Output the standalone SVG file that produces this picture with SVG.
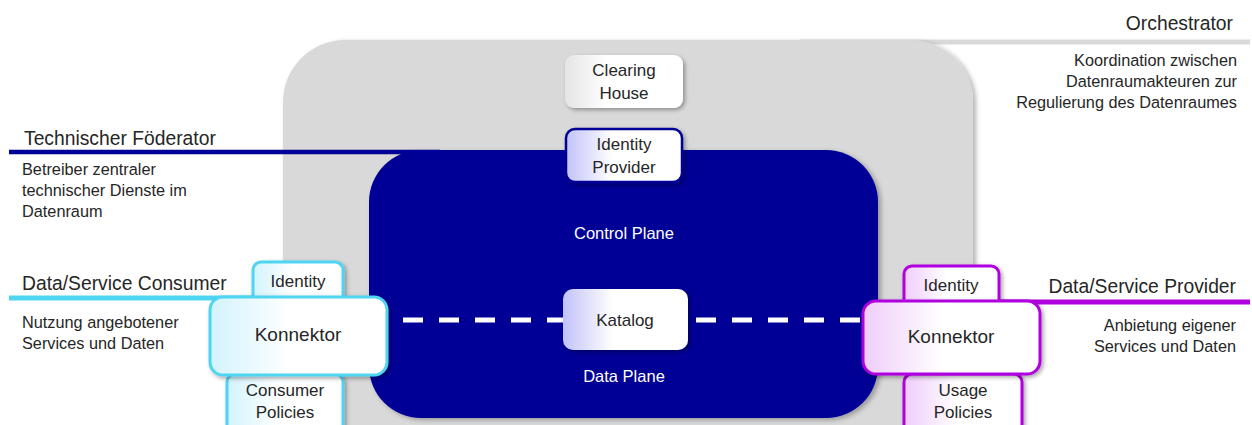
<svg xmlns="http://www.w3.org/2000/svg" width="1252" height="425" viewBox="0 0 1252 425">
<style>
text{font-family:"Liberation Sans",Arial,sans-serif;fill:#262626}
.h{font-size:19.3px}
.d{font-size:16.3px}
.b{font-size:17px;text-anchor:middle}
.k{font-size:19px;text-anchor:middle}
.w{fill:#ffffff;font-size:16.5px;text-anchor:middle}
.r{text-anchor:end}
.cy{stroke:#4fd4f2;stroke-width:3}
.pu{stroke:#b000e0;stroke-width:3}
</style>
<defs>
<filter id="sh" x="-20%" y="-20%" width="150%" height="150%"><feDropShadow dx="2" dy="2" stdDeviation="2" flood-color="#000" flood-opacity="0.35"/></filter>
<filter id="shb" x="-10%" y="-10%" width="130%" height="130%"><feDropShadow dx="3" dy="2" stdDeviation="2.5" flood-color="#000" flood-opacity="0.3"/></filter>
<linearGradient id="gGrey" x1="0" x2="1" y1="0" y2="0"><stop offset="0" stop-color="#e4e4e4"/><stop offset="0.35" stop-color="#ffffff"/></linearGradient>
<linearGradient id="gBlue" x1="0" x2="1" y1="0" y2="0"><stop offset="0" stop-color="#c2c2fa"/><stop offset="0.4" stop-color="#ffffff"/></linearGradient>
<linearGradient id="gCyan" x1="0" x2="1" y1="0" y2="0"><stop offset="0" stop-color="#d2f3fc"/><stop offset="0.45" stop-color="#ffffff"/></linearGradient>
<linearGradient id="gPur" x1="0" x2="1" y1="0" y2="0"><stop offset="0" stop-color="#efcdfb"/><stop offset="0.45" stop-color="#ffffff"/></linearGradient>
</defs>

<g id="lines">
<line x1="800" y1="42" x2="1250" y2="42" stroke="#d9d9d9" stroke-width="5"/>
</g>

<g id="orchestrator">
<rect x="283" y="40" width="690" height="440" rx="62" fill="#d9d9d9" filter="url(#shb)"/>
<text class="h r" x="1233" y="30">Orchestrator</text>
<text class="d r" x="1237" y="66">Koordination zwischen</text>
<text class="d r" x="1237" y="87">Datenraumakteuren zur</text>
<text class="d r" x="1237" y="108">Regulierung des Datenraumes</text>
</g>

<g id="foederator">
<line x1="9" y1="152" x2="440" y2="152" stroke="#000096" stroke-width="4.5"/>
<text class="h" x="24" y="145">Technischer Föderator</text>
<text class="d" x="22" y="175">Betreiber zentraler</text>
<text class="d" x="22" y="196">technischer Dienste im</text>
<text class="d" x="22" y="217">Datenraum</text>
</g>

<g id="plane">
<rect x="369" y="150" width="509" height="268" rx="52" fill="#000096" filter="url(#shb)"/>
<text class="w" x="624" y="239">Control Plane</text>
<text class="w" x="624" y="382">Data Plane</text>
</g>

<g id="clearing-house">
<rect x="565" y="55" width="118" height="53" rx="9" fill="url(#gGrey)" filter="url(#sh)"/>
<text class="b" x="624" y="76">Clearing</text>
<text class="b" x="624" y="99">House</text>
</g>

<g id="identity-provider">
<rect x="566" y="129" width="116" height="53" rx="9" fill="url(#gBlue)" stroke="#000096" stroke-width="2.5" filter="url(#sh)"/>
<text class="b" x="624" y="150">Identity</text>
<text class="b" x="624" y="173">Provider</text>
</g>

<g id="connectors">
<line x1="403" y1="320" x2="563" y2="320" stroke="#ffffff" stroke-width="5" stroke-dasharray="20 16"/>
<line x1="696" y1="320" x2="862" y2="320" stroke="#ffffff" stroke-width="5" stroke-dasharray="20 16"/>
</g>

<g id="katalog">
<rect x="563" y="289" width="125" height="61" rx="10" fill="url(#gBlue)" filter="url(#sh)"/>
<text class="b" x="625" y="326">Katalog</text>
</g>

<g id="consumer">
<line x1="9" y1="298" x2="260" y2="298" stroke="#4fd4f2" stroke-width="5"/>
<text class="h" x="22" y="290">Data/Service Consumer</text>
<text class="d" x="22" y="328">Nutzung angebotener</text>
<text class="d" x="22" y="349">Services und Daten</text>
</g>

<g id="consumer-identity">
<rect x="253" y="262" width="90" height="45" rx="8" fill="url(#gCyan)" class="cy" filter="url(#sh)"/>
<text class="b" x="298" y="287">Identity</text>
</g>

<g id="consumer-policies">
<rect x="227" y="374" width="116" height="70" rx="8" fill="url(#gCyan)" class="cy" filter="url(#sh)"/>
<text class="b" x="285" y="396">Consumer</text>
<text class="b" x="285" y="418">Policies</text>
</g>

<g id="consumer-konnektor">
<rect x="210" y="297" width="177" height="78" rx="13" fill="url(#gCyan)" class="cy" filter="url(#sh)"/>
<text class="k" x="298" y="341">Konnektor</text>
</g>

<g id="provider">
<line x1="990" y1="302" x2="1250" y2="302" stroke="#b000e0" stroke-width="5"/>
<text class="h r" x="1236" y="293">Data/Service Provider</text>
<text class="d r" x="1236" y="331">Anbietung eigener</text>
<text class="d r" x="1236" y="352">Services und Daten</text>
</g>

<g id="provider-identity">
<rect x="904" y="266" width="95" height="45" rx="8" fill="url(#gPur)" class="pu" filter="url(#sh)"/>
<text class="b" x="951" y="291">Identity</text>
</g>

<g id="usage-policies">
<rect x="904" y="374" width="118" height="70" rx="8" fill="url(#gPur)" class="pu" filter="url(#sh)"/>
<text class="b" x="963" y="396">Usage</text>
<text class="b" x="963" y="418">Policies</text>
</g>

<g id="provider-konnektor">
<rect x="863" y="301" width="177" height="73" rx="13" fill="url(#gPur)" class="pu" filter="url(#sh)"/>
<text class="k" x="951" y="343">Konnektor</text>
</g>
</svg>
